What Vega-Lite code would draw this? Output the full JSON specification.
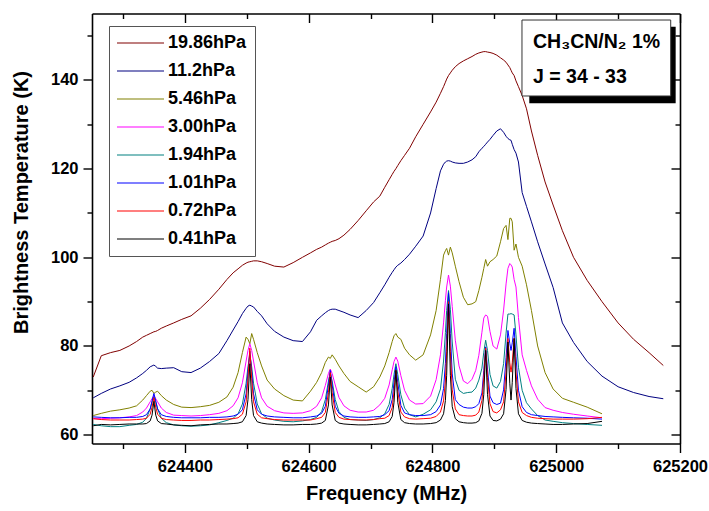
{
  "$schema": "https://vega.github.io/schema/vega-lite/v6.json",
  "width": 588,
  "height": 430,
  "autosize": "none",
  "padding": {"left": 92, "top": 13.5, "right": 29, "bottom": 67.5},
  "background": "white",
  "config": {
    "view": {"stroke": null},
    "font": "Liberation Sans",
    "axis": {
      "grid": false,
      "domainColor": "black",
      "domainWidth": 1.6,
      "tickColor": "black",
      "tickWidth": 1.4,
      "labelFont": "Liberation Sans",
      "labelFontSize": 16.5,
      "labelFontWeight": "bold",
      "labelColor": "black",
      "titleFont": "Liberation Sans",
      "titleFontSize": 20,
      "titleFontWeight": "bold",
      "titleColor": "black",
      "labelOverlap": false,
      "labelFlush": false
    }
  },
  "data": {
    "values": [
      {"f":624252,"a":73.0,"b":68.3,"c":64.3,"d":63.6,"e":62.3,"g":64.0,"h":63.6,"k":62.0},
      {"f":624265,"a":77.8,"b":69.3,"c":64.8,"d":63.6,"e":62.0,"g":63.9,"h":63.4,"k":62.3},
      {"f":624280,"a":78.5,"b":70.3,"c":65.3,"d":63.7,"e":61.8,"g":63.8,"h":63.3,"k":62.2},
      {"f":624295,"a":79.0,"b":71.0,"c":65.6,"d":63.8,"e":61.8,"g":63.8,"h":63.3,"k":62.3},
      {"f":624310,"a":80.0,"b":71.8,"c":66.0,"d":64.0,"e":62.1,"g":63.9,"h":63.3,"k":62.4},
      {"f":624322,"a":81.0,"b":72.8,"c":66.5,"d":64.3,"e":62.3,"g":63.9,"h":63.4,"k":62.4},
      {"f":624332,"a":82.0,"b":73.8,"c":67.8,"d":65.1,"e":62.8,"g":64.1,"h":63.5,"k":62.4},
      {"f":624338,"a":82.4,"b":74.5,"c":68.8,"d":66.0,"e":63.7,"g":64.5,"h":63.7,"k":62.5},
      {"f":624344,"a":82.8,"b":75.3,"c":69.8,"d":67.4,"e":65.8,"g":65.8,"h":64.6,"k":63.1},
      {"f":624347,"a":83.0,"b":75.5,"c":70.0,"d":68.1,"e":67.3,"g":67.6,"h":66.2,"k":64.4},
      {"f":624350,"a":83.2,"b":75.7,"c":69.3,"d":68.8,"e":68.5,"g":69.3,"h":68.3,"k":67.5},
      {"f":624353,"a":83.3,"b":75.4,"c":69.6,"d":68.1,"e":67.3,"g":67.6,"h":66.2,"k":64.4},
      {"f":624356,"a":83.5,"b":75.0,"c":69.8,"d":67.4,"e":65.8,"g":65.8,"h":64.6,"k":63.1},
      {"f":624362,"a":84.0,"b":74.9,"c":68.8,"d":66.0,"e":63.7,"g":64.5,"h":63.7,"k":62.5},
      {"f":624370,"a":84.5,"b":75.0,"c":67.8,"d":65.0,"e":62.7,"g":64.1,"h":63.4,"k":62.4},
      {"f":624382,"a":85.2,"b":75.1,"c":66.8,"d":64.4,"e":62.2,"g":63.9,"h":63.3,"k":62.2},
      {"f":624395,"a":86.0,"b":74.2,"c":66.2,"d":64.3,"e":62.0,"g":63.8,"h":63.2,"k":62.1},
      {"f":624410,"a":86.8,"b":74.0,"c":66.1,"d":64.2,"e":61.9,"g":63.8,"h":63.2,"k":62.0},
      {"f":624425,"a":88.5,"b":75.0,"c":66.3,"d":64.3,"e":62.0,"g":63.8,"h":63.3,"k":62.2},
      {"f":624440,"a":90.5,"b":76.5,"c":66.6,"d":64.5,"e":62.2,"g":63.9,"h":63.3,"k":62.3},
      {"f":624455,"a":92.8,"b":78.3,"c":67.3,"d":64.8,"e":62.7,"g":63.9,"h":63.4,"k":62.4},
      {"f":624468,"a":95.0,"b":81.2,"c":68.5,"d":65.4,"e":63.2,"g":64.0,"h":63.5,"k":62.4},
      {"f":624478,"a":96.5,"b":83.6,"c":70.7,"d":66.5,"e":63.7,"g":64.2,"h":63.6,"k":62.5},
      {"f":624486,"a":97.4,"b":85.5,"c":74.0,"d":68.3,"e":64.7,"g":64.6,"h":63.8,"k":62.6},
      {"f":624493,"a":98.2,"b":87.3,"c":78.5,"d":71.7,"e":66.9,"g":65.6,"h":64.6,"k":62.9},
      {"f":624499,"a":98.7,"b":88.5,"c":82.0,"d":76.6,"e":71.6,"g":69.2,"h":67.4,"k":64.3},
      {"f":624502,"a":98.9,"b":89.0,"c":81.5,"d":79.0,"e":75.3,"g":74.2,"h":72.6,"k":67.9},
      {"f":624505,"a":99.0,"b":89.2,"c":80.5,"d":80.5,"e":78.0,"g":78.8,"h":79.5,"k":76.0},
      {"f":624508,"a":99.1,"b":89.0,"c":82.8,"d":79.0,"e":75.3,"g":74.2,"h":72.6,"k":67.9},
      {"f":624511,"a":99.2,"b":88.8,"c":81.5,"d":76.6,"e":71.6,"g":69.2,"h":67.4,"k":64.3},
      {"f":624517,"a":99.2,"b":87.8,"c":78.5,"d":71.7,"e":66.9,"g":65.6,"h":64.6,"k":62.9},
      {"f":624524,"a":99.0,"b":86.8,"c":75.5,"d":68.3,"e":64.7,"g":64.6,"h":63.8,"k":62.6},
      {"f":624533,"a":98.6,"b":85.0,"c":72.3,"d":66.4,"e":63.7,"g":64.2,"h":63.6,"k":62.4},
      {"f":624545,"a":98.0,"b":83.3,"c":70.3,"d":65.4,"e":63.3,"g":64.0,"h":63.4,"k":62.3},
      {"f":624560,"a":97.8,"b":82.0,"c":68.8,"d":64.9,"e":63.0,"g":63.9,"h":63.3,"k":62.2},
      {"f":624575,"a":98.8,"b":81.2,"c":67.8,"d":64.8,"e":62.9,"g":63.8,"h":63.3,"k":62.2},
      {"f":624590,"a":100.0,"b":81.0,"c":67.6,"d":64.9,"e":63.1,"g":63.8,"h":63.3,"k":62.3},
      {"f":624603,"a":101.0,"b":83.2,"c":69.8,"d":65.4,"e":63.4,"g":64.0,"h":63.3,"k":62.3},
      {"f":624613,"a":101.8,"b":85.8,"c":71.8,"d":66.4,"e":63.9,"g":64.2,"h":63.6,"k":62.4},
      {"f":624621,"a":102.3,"b":86.8,"c":74.0,"d":68.3,"e":65.2,"g":64.8,"h":63.9,"k":62.6},
      {"f":624627,"a":102.8,"b":87.5,"c":76.3,"d":71.1,"e":67.9,"g":66.4,"h":65.0,"k":63.2},
      {"f":624632,"a":103.2,"b":88.0,"c":77.5,"d":73.8,"e":72.1,"g":71.2,"h":69.5,"k":66.7},
      {"f":624635,"a":103.4,"b":88.2,"c":77.2,"d":74.8,"e":74.0,"g":74.5,"h":74.0,"k":73.0},
      {"f":624638,"a":103.6,"b":88.3,"c":78.0,"d":73.8,"e":72.1,"g":71.2,"h":69.5,"k":66.7},
      {"f":624643,"a":103.8,"b":88.3,"c":77.0,"d":71.2,"e":67.9,"g":66.4,"h":65.0,"k":63.2},
      {"f":624649,"a":104.2,"b":88.0,"c":75.5,"d":68.4,"e":65.2,"g":64.8,"h":63.9,"k":62.6},
      {"f":624657,"a":105.0,"b":87.6,"c":73.8,"d":66.5,"e":63.9,"g":64.2,"h":63.5,"k":62.4},
      {"f":624667,"a":106.3,"b":87.0,"c":72.0,"d":65.5,"e":63.4,"g":64.0,"h":63.4,"k":62.3},
      {"f":624680,"a":108.3,"b":86.4,"c":70.8,"d":65.1,"e":63.3,"g":63.9,"h":63.3,"k":62.2},
      {"f":624693,"a":110.5,"b":88.0,"c":69.6,"d":65.1,"e":63.2,"g":63.9,"h":63.3,"k":62.2},
      {"f":624705,"a":112.5,"b":89.8,"c":70.8,"d":65.5,"e":63.4,"g":64.0,"h":63.4,"k":62.3},
      {"f":624715,"a":113.8,"b":92.0,"c":73.0,"d":66.7,"e":63.8,"g":64.1,"h":63.6,"k":62.4},
      {"f":624723,"a":115.8,"b":93.8,"c":75.5,"d":68.2,"e":64.7,"g":64.5,"h":63.7,"k":62.5},
      {"f":624730,"a":117.5,"b":95.5,"c":78.5,"d":71.2,"e":66.8,"g":65.4,"h":64.3,"k":62.9},
      {"f":624735,"a":118.7,"b":96.6,"c":81.0,"d":74.6,"e":70.4,"g":67.9,"h":66.1,"k":64.1},
      {"f":624738,"a":119.4,"b":97.2,"c":82.3,"d":76.5,"e":73.6,"g":71.8,"h":69.8,"k":67.3},
      {"f":624741,"a":120.0,"b":97.8,"c":82.8,"d":77.5,"e":76.0,"g":75.3,"h":74.5,"k":74.5},
      {"f":624744,"a":120.7,"b":98.2,"c":82.0,"d":76.6,"e":73.6,"g":71.8,"h":69.8,"k":67.3},
      {"f":624749,"a":121.8,"b":98.7,"c":81.5,"d":73.3,"e":69.0,"g":66.6,"h":65.1,"k":63.4},
      {"f":624755,"a":123.0,"b":99.5,"c":79.5,"d":70.0,"e":66.0,"g":64.9,"h":64.0,"k":62.7},
      {"f":624763,"a":124.6,"b":100.7,"c":78.0,"d":67.8,"e":64.5,"g":64.5,"h":63.6,"k":62.5},
      {"f":624773,"a":127.2,"b":102.5,"c":76.8,"d":66.9,"e":64.0,"g":64.3,"h":63.5,"k":62.4},
      {"f":624785,"a":130.0,"b":104.8,"c":78.0,"d":67.0,"e":64.6,"g":64.3,"h":63.6,"k":62.4},
      {"f":624797,"a":132.8,"b":110.0,"c":82.5,"d":68.7,"e":65.6,"g":64.5,"h":63.7,"k":62.5},
      {"f":624806,"a":135.0,"b":115.5,"c":88.0,"d":72.4,"e":67.4,"g":65.2,"h":64.1,"k":62.7},
      {"f":624813,"a":137.0,"b":119.5,"c":95.0,"d":78.0,"e":70.3,"g":66.7,"h":65.1,"k":63.3},
      {"f":624818,"a":138.5,"b":121.0,"c":100.5,"d":85.2,"e":76.6,"g":70.4,"h":67.6,"k":64.7},
      {"f":624821,"a":139.5,"b":121.5,"c":101.5,"d":90.3,"e":83.0,"g":76.1,"h":72.1,"k":67.7},
      {"f":624823,"a":140.2,"b":121.7,"c":102.0,"d":93.3,"e":88.0,"g":82.8,"h":78.7,"k":73.4},
      {"f":624826,"a":141.0,"b":121.8,"c":100.5,"d":96.0,"e":92.5,"g":92.0,"h":90.0,"k":89.5},
      {"f":624829,"a":141.6,"b":121.7,"c":102.3,"d":93.5,"e":88.3,"g":82.8,"h":78.7,"k":73.4},
      {"f":624832,"a":142.2,"b":121.5,"c":101.0,"d":88.9,"e":80.9,"g":73.7,"h":70.1,"k":66.3},
      {"f":624837,"a":143.0,"b":121.3,"c":98.0,"d":81.3,"e":72.5,"g":67.9,"h":65.8,"k":63.6},
      {"f":624843,"a":143.7,"b":121.2,"c":94.5,"d":75.5,"e":70.0,"g":66.8,"h":64.5,"k":62.9},
      {"f":624850,"a":144.3,"b":121.2,"c":91.0,"d":72.1,"e":69.3,"g":66.2,"h":64.3,"k":62.7},
      {"f":624857,"a":144.8,"b":121.5,"c":89.3,"d":71.5,"e":69.5,"g":66.0,"h":64.2,"k":62.6},
      {"f":624864,"a":145.3,"b":122.0,"c":89.5,"d":72.5,"e":69.6,"g":66.0,"h":64.2,"k":62.6},
      {"f":624870,"a":145.8,"b":122.7,"c":90.0,"d":74.5,"e":70.5,"g":66.3,"h":64.4,"k":62.7},
      {"f":624875,"a":146.1,"b":123.8,"c":92.5,"d":77.9,"e":72.3,"g":67.0,"h":65.1,"k":63.1},
      {"f":624880,"a":146.3,"b":124.6,"c":95.5,"d":83.1,"e":75.0,"g":69.4,"h":67.7,"k":64.8},
      {"f":624883,"a":146.4,"b":125.0,"c":97.5,"d":86.3,"e":78.6,"g":74.5,"h":72.9,"k":69.1},
      {"f":624886,"a":146.4,"b":125.5,"c":99.5,"d":87.0,"e":81.3,"g":79.8,"h":79.5,"k":79.0},
      {"f":624889,"a":146.3,"b":126.0,"c":98.0,"d":86.7,"e":79.0,"g":74.8,"h":72.9,"k":69.1},
      {"f":624893,"a":146.2,"b":126.6,"c":99.0,"d":83.3,"e":73.6,"g":68.7,"h":67.0,"k":64.2},
      {"f":624898,"a":146.0,"b":127.5,"c":99.5,"d":80.0,"e":71.0,"g":67.2,"h":65.2,"k":63.2},
      {"f":624904,"a":145.6,"b":128.5,"c":100.3,"d":79.3,"e":70.5,"g":66.8,"h":64.9,"k":63.1},
      {"f":624910,"a":145.0,"b":129.0,"c":103.5,"d":82.5,"e":72.0,"g":67.1,"h":65.6,"k":63.5},
      {"f":624915,"a":144.5,"b":128.2,"c":106.5,"d":88.1,"e":76.0,"g":70.1,"h":67.4,"k":64.7},
      {"f":624919,"a":144.0,"b":127.3,"c":107.2,"d":94.0,"e":82.9,"g":77.4,"h":74.1,"k":70.2},
      {"f":624922,"a":143.4,"b":126.8,"c":104.0,"d":97.5,"e":87.2,"g":83.5,"h":81.7,"k":80.9},
      {"f":624925,"a":142.8,"b":126.5,"c":108.8,"d":98.6,"e":87.2,"g":80.6,"h":76.2,"k":71.6},
      {"f":624927,"a":142.2,"b":126.4,"c":108.8,"d":98.3,"e":87.3,"g":79.0,"h":74.1,"k":67.8},
      {"f":624929,"a":141.6,"b":125.5,"c":108.0,"d":97.8,"e":87.2,"g":80.7,"h":76.2,"k":71.8},
      {"f":624932,"a":141.0,"b":124.3,"c":101.6,"d":95.0,"e":87.0,"g":84.0,"h":81.7,"k":81.7},
      {"f":624935,"a":139.8,"b":123.5,"c":103.0,"d":93.3,"e":82.5,"g":77.6,"h":74.1,"k":70.4},
      {"f":624939,"a":138.5,"b":121.5,"c":100.0,"d":86.4,"e":75.2,"g":70.0,"h":67.4,"k":64.7},
      {"f":624945,"a":136.5,"b":114.6,"c":98.0,"d":78.0,"e":70.0,"g":66.3,"h":65.0,"k":63.2},
      {"f":624952,"a":133.5,"b":111.5,"c":93.8,"d":74.5,"e":67.2,"g":65.0,"h":64.3,"k":62.8},
      {"f":624960,"a":128.5,"b":108.0,"c":88.0,"d":71.0,"e":65.8,"g":64.5,"h":63.9,"k":62.6},
      {"f":624970,"a":123.0,"b":103.5,"c":80.0,"d":68.0,"e":64.3,"g":64.3,"h":63.7,"k":62.5},
      {"f":624982,"a":117.0,"b":98.5,"c":74.0,"d":66.1,"e":63.3,"g":64.1,"h":63.6,"k":62.4},
      {"f":624995,"a":111.8,"b":93.2,"c":70.3,"d":65.5,"e":63.0,"g":64.0,"h":63.5,"k":62.3},
      {"f":625010,"a":106.0,"b":85.2,"c":68.2,"d":65.0,"e":62.7,"g":63.9,"h":63.5,"k":62.3},
      {"f":625028,"a":100.0,"b":80.8,"c":67.3,"d":64.6,"e":62.5,"g":63.8,"h":63.5,"k":62.4},
      {"f":625050,"a":94.8,"b":76.5,"c":66.2,"d":64.2,"e":62.3,"g":63.7,"h":63.6,"k":62.5},
      {"f":625074,"a":90.0,"b":73.2,"c":64.7,"d":63.8,"e":62.1,"g":63.5,"h":63.9,"k":63.0},
      {"f":625100,"a":85.2,"b":70.8},
      {"f":625125,"a":81.5,"b":69.5},
      {"f":625150,"a":78.5,"b":68.6},
      {"f":625173,"a":75.6,"b":68.1}
    ]
  },
  "transform": [
    {"fold": ["a","b","c","d","e","g","h","k"], "as": ["s","t"]},
    {"filter": "isValid(datum.t)"}
  ],
  "layer": [
    {
      "mark": {"type": "line", "strokeWidth": 1, "clip": true},
      "encoding": {
        "x": {
          "field": "f", "type": "quantitative",
          "scale": {"domain": [624250, 625200], "nice": false, "zero": false},
          "axis": {
            "orient": "bottom",
            "values": [624300,624400,624500,624600,624700,624800,624900,625000,625100,625200],
            "format": "d",
            "labelExpr": "datum.value % 200 == 0 ? datum.label : ''",
            "tickSize": {"condition": {"test": "datum.value % 200 == 0", "value": 9}, "value": 5},
            "labelPadding": 6,
            "title": "Frequency (MHz)",
            "titlePadding": 8
          }
        },
        "y": {
          "field": "t", "type": "quantitative",
          "scale": {"domain": [58, 155], "nice": false, "zero": false},
          "axis": {
            "orient": "left",
            "values": [60,70,80,90,100,110,120,130,140,150],
            "labelExpr": "datum.value % 20 == 0 ? datum.label : ''",
            "tickSize": {"condition": {"test": "datum.value % 20 == 0", "value": 9}, "value": 5},
            "labelPadding": 5,
            "title": "Brightness Temperature (K)",
            "titlePadding": 19,
            "titleY": 188.5
          }
        },
        "color": {
          "field": "s", "type": "nominal",
          "scale": {
            "domain": ["a","b","c","d","e","g","h","k"],
            "range": ["#800000","#000080","#808000","#FF00FF","#008080","#0000FF","#FF0000","#000000"]
          },
          "legend": {
            "orient": "none",
            "legendX": 17,
            "legendY": 12.5,
            "title": null,
            "direction": "vertical",
            "symbolType": "stroke",
            "symbolSize": 2304,
            "symbolStrokeWidth": 1.2,
            "clipHeight": 18,
            "rowPadding": 10,
            "padding": 8,
            "symbolOffset": -2,
            "labelOffset": 3,
            "labelFont": "Liberation Sans",
            "labelFontSize": 18,
            "labelFontWeight": "bold",
            "labelColor": "black",
            "labelLimit": 300,
            "strokeColor": "#555555",
            "fillColor": "white",
            "labelExpr": "datum.label == 'a' ? '19.86hPa' : datum.label == 'b' ? '11.2hPa' : datum.label == 'c' ? '5.46hPa' : datum.label == 'd' ? '3.00hPa' : datum.label == 'e' ? '1.94hPa' : datum.label == 'g' ? '1.01hPa' : datum.label == 'h' ? '0.72hPa' : '0.41hPa'"
          }
        }
      }
    },
    {
      "mark": {"type": "point", "opacity": 0},
      "encoding": {
        "x": {
          "field": "f", "type": "quantitative",
          "axis": {
            "orient": "top",
            "values": [624300,624400,624500,624600,624700,624800,624900,625000,625100,625200],
            "labels": false,
            "tickSize": {"condition": {"test": "datum.value % 200 == 0", "value": -9}, "value": -5},
            "title": null
          }
        },
        "y": {
          "field": "t", "type": "quantitative",
          "axis": {
            "orient": "right",
            "values": [60,70,80,90,100,110,120,130,140,150],
            "labels": false,
            "tickSize": {"condition": {"test": "datum.value % 20 == 0", "value": -9}, "value": -5},
            "title": null
          }
        }
      }
    },
    {
      "data": {"values": [{}]},
      "mark": {"type": "rect", "fill": "black"},
      "encoding": {
        "x": {"datum": 624956.5, "type": "quantitative", "axis": null},
        "x2": {"datum": 625193},
        "y": {"datum": 152.0, "type": "quantitative", "axis": null},
        "y2": {"datum": 134.74}
      }
    },
    {
      "data": {"values": [{}]},
      "mark": {"type": "rect", "fill": "white", "stroke": "#333333", "strokeWidth": 1},
      "encoding": {
        "x": {"datum": 624944.7, "type": "quantitative", "axis": null},
        "x2": {"datum": 625185},
        "y": {"datum": 153.53, "type": "quantitative", "axis": null},
        "y2": {"datum": 136.39}
      }
    },
    {
      "data": {"values": [{}]},
      "mark": {"type": "text", "text": "CH₃CN/N₂ 1%", "align": "left", "baseline": "alphabetic", "font": "Liberation Sans", "fontSize": 19.5, "fontWeight": "bold", "color": "black"},
      "encoding": {
        "x": {"datum": 624962.5, "type": "quantitative", "axis": null},
        "y": {"datum": 147.15, "type": "quantitative", "axis": null}
      }
    },
    {
      "data": {"values": [{}]},
      "mark": {"type": "text", "text": "J = 34 - 33", "align": "left", "baseline": "alphabetic", "font": "Liberation Sans", "fontSize": 19.5, "fontWeight": "bold", "color": "black"},
      "encoding": {
        "x": {"datum": 624962.5, "type": "quantitative", "axis": null},
        "y": {"datum": 139.25, "type": "quantitative", "axis": null}
      }
    }
  ],
  "resolve": {"axis": {"x": "independent", "y": "independent"}}
}
